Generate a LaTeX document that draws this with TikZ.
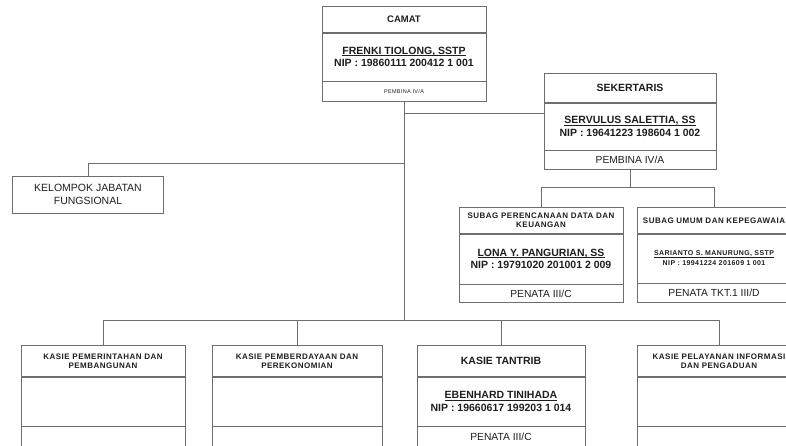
\documentclass[tikz,border=0pt]{standalone}
\usepackage{fontspec}
\setmainfont{Liberation Sans}
\newfontfamily\spacedfont[LetterSpace=6]{Liberation Sans}
\usepackage{tikz}
\usetikzlibrary{positioning, calc}
\definecolor{OrgLine}{RGB}{110, 110, 110}
\definecolor{OrgText}{RGB}{30, 30, 30}
\newsavebox{\namebox}
\newcommand{\nameline}[1]{\sbox{\namebox}{#1}\rlap{\rule[-1.8pt]{\wd\namebox}{0.7pt}}\usebox{\namebox}}

\tikzset{
  cell/.style={draw=OrgLine, line width=0.6pt, text=OrgText, align=center,
    inner sep=0pt, minimum width=#1},
  cell/.default=164pt,
  link/.style={draw=OrgLine, line width=0.8pt},
  titletext/.style={font=\fontsize{10.5}{12}\selectfont\bfseries},
  smalltitle/.style={font=\spacedfont\fontsize{8}{9}\selectfont\bfseries},
  nametext/.style={font=\fontsize{10.5}{12.5}\selectfont\bfseries},
  smallname/.style={font=\spacedfont\fontsize{7}{10}\selectfont\bfseries},
  ranktext/.style={font=\fontsize{10.3}{11}\selectfont}
}

\begin{document}
\begin{tikzpicture}[x=1pt, y=-1pt]
  \useasboundingbox (0,0) rectangle (786,446);
  \clip (0,0) rectangle (786,446);

  % camat
  \node[cell, minimum height=26pt, titletext, font=\fontsize{9.5}{11}\selectfont\bfseries,
    anchor=north] (camat) at (404,6) {CAMAT};
  \node[cell, minimum height=48pt, nametext, below=0pt of camat] (camatname)
    {\nameline{FRENKI TIOLONG, SSTP}\\NIP : 19860111 200412 1 001};
  \node[cell, minimum height=20pt, font=\spacedfont\fontsize{5.5}{6}\selectfont,
    below=0pt of camatname] (camatrank) {PEMBINA IV/A};

  % sekertaris
  \node[cell=172pt, minimum height=29pt, titletext, anchor=north] (sek) at (630,73) {SEKERTARIS};
  \node[cell=172pt, minimum height=47pt, nametext, below=0pt of sek] (sekname)
    {\nameline{SERVULUS SALETTIA, SS}\\NIP : 19641223 198604 1 002};
  \node[cell=172pt, minimum height=19pt, ranktext, below=0pt of sekname] (sekrank) {PEMBINA IV/A};

  % kelompok jabatan fungsional
  \node[cell=151pt, minimum height=37pt, font=\fontsize{10.5}{13}\selectfont, anchor=north]
    (fungsional) at (88,176) {KELOMPOK JABATAN\\FUNGSIONAL};

  % subag
  \node[cell, minimum height=26pt, smalltitle, anchor=north] (subagren) at (541,207)
    {SUBAG PERENCANAAN DATA DAN\\KEUANGAN};
  \node[cell, minimum height=50pt, nametext, below=0pt of subagren] (subagrenname)
    {\nameline{LONA Y. PANGURIAN, SS}\\NIP : 19791020 201001 2 009};
  \node[cell, minimum height=18pt, ranktext, below=0pt of subagrenname] (subagrenrank) {PENATA III/C};

  \node[cell=154pt, minimum height=26pt, smalltitle, anchor=north] (subagum) at (714,207)
    {SUBAG UMUM DAN KEPEGAWAIA};
  \node[cell=154pt, minimum height=49pt, smallname, below=0pt of subagum] (subagumname)
    {\nameline{SARIANTO S. MANURUNG, SSTP}\\NIP : 19941224 201609 1 001};
  \node[cell=154pt, minimum height=19pt, ranktext, below=0pt of subagumname] (subagumrank) {PENATA TKT.1 III/D};

  % kasie
  \node[cell, minimum height=31pt, smalltitle, anchor=north] (kasiepem) at (103,345)
    {KASIE PEMERINTAHAN DAN\\PEMBANGUNAN};
  \node[cell, minimum height=49pt, below=0pt of kasiepem] (kasiepembody) {};
  \node[cell, minimum height=20pt, below=0pt of kasiepembody] (kasiepemrank) {};

  \node[cell=170pt, minimum height=31pt, smalltitle, anchor=north] (kasieeko) at (297,345)
    {KASIE PEMBERDAYAAN DAN\\PEREKONOMIAN};
  \node[cell=170pt, minimum height=49pt, below=0pt of kasieeko] (kasieekobody) {};
  \node[cell=170pt, minimum height=20pt, below=0pt of kasieekobody] (kasieekorank) {};

  \node[cell=168pt, minimum height=31pt, titletext, anchor=north] (kasietan) at (501,345) {KASIE TANTRIB};
  \node[cell=168pt, minimum height=49pt, nametext, below=0pt of kasietan] (kasietanname)
    {\nameline{EBENHARD TINIHADA}\\NIP : 19660617 199203 1 014};
  \node[cell=168pt, minimum height=20pt, ranktext, below=0pt of kasietanname] (kasietanrank) {PENATA III/C};

  \node[cell, minimum height=31pt, smalltitle, anchor=north] (kasiepel) at (719,345)
    {KASIE PELAYANAN INFORMASI\\DAN PENGADUAN};
  \node[cell, minimum height=49pt, below=0pt of kasiepel] (kasiepelbody) {};
  \node[cell, minimum height=20pt, below=0pt of kasiepelbody] (kasiepelrank) {};

  % connectors
  \coordinate (sekjoin) at (404,113);
  \coordinate (fungjoin) at (404,163);
  \coordinate (subagbus) at (0,187);
  \coordinate (kasiebus) at (0,320);

  \draw[link] (camatrank.south) -- (camatrank.south |- kasiebus);
  \draw[link] (sekjoin) -- (sekjoin -| sekname.west);
  \draw[link] (fungsional.north) |- (fungjoin);
  \draw[link] (sekrank.south) -- (sekrank.south |- subagbus);
  \draw[link] (subagren.north) |- (subagum.north |- subagbus) -- (subagum.north);
  \draw[link] (kasiepem.north) |- (kasiepel.north |- kasiebus) -- (kasiepel.north);
  \foreach \k in {kasieeko, kasietan}
    \draw[link] (\k.north) -- (\k.north |- kasiebus);
\end{tikzpicture}
\end{document}
